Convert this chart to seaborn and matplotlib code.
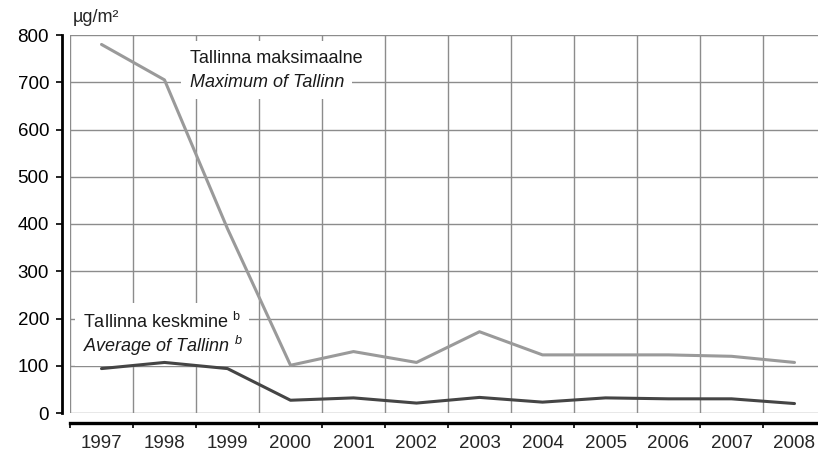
import numpy as np
import pandas as pd
import seaborn as sns
import matplotlib.pyplot as plt
from matplotlib.ticker import FixedLocator, NullFormatter

years = [1997, 1998, 1999, 2000, 2001, 2002, 2003, 2004, 2005, 2006, 2007, 2008]
maximum = [780, 705, 390, 101, 130, 107, 172, 123, 123, 123, 120, 107]
average = [94, 107, 94, 27, 32, 21, 33, 23, 32, 30, 30, 20]

df = pd.DataFrame({
    'year': years * 2,
    'value': maximum + average,
    'series': ['max'] * len(years) + ['avg'] * len(years),
})

sns.set_style('white')
plt.rcParams['font.family'] = ['Liberation Sans', 'DejaVu Sans']
plt.rcParams['mathtext.fontset'] = 'custom'
plt.rcParams['mathtext.rm'] = 'Liberation Sans'
plt.rcParams['mathtext.it'] = 'Liberation Sans:italic'

W, H = 818, 459
fig = plt.figure(figsize=(W / 100, H / 100), dpi=100)
# plot area in pixels: x 70..826, y 35..413
ax = fig.add_axes([70 / W, 1 - 413 / H, 756 / W, 378 / H])

sns.lineplot(data=df, x='year', y='value', hue='series',
             palette={'max': '#9a9a9a', 'avg': '#454545'},
             hue_order=['max', 'avg'], linewidth=2.2, legend=False, ax=ax,
             zorder=3)

ax.set_xlim(1996.5, 2008.5)
ax.set_ylim(0, 800)
ax.set_xlabel('')
ax.set_ylabel('')

ax.set_yticks(np.arange(0, 801, 100))
ax.xaxis.set_major_locator(FixedLocator(np.arange(1996.5, 2009, 1)))
ax.xaxis.set_major_formatter(NullFormatter())
ax.xaxis.set_minor_locator(FixedLocator(years))
ax.set_xticklabels([str(y) for y in years], minor=True)

ax.tick_params(axis='y', which='major', direction='out', length=4.3, width=1.2,
               labelsize=13.5, pad=5, colors='black', left=True)
ax.tick_params(axis='x', which='major', direction='out', length=3.6, width=1.2,
               bottom=True, colors='black')
ax.tick_params(axis='x', which='minor', length=0, labelsize=13.5, pad=9)

ax.grid(True, which='major', color='#8c8c8c', linewidth=1.0)
ax.set_axisbelow(True)

for s in ['top', 'right']:
    ax.spines[s].set_visible(False)
ax.spines['left'].set_position(('outward', 5.8))
ax.spines['left'].set_linewidth(2.0)
ax.spines['left'].set_color('black')
ax.spines['bottom'].set_position(('outward', 7.2))
ax.spines['bottom'].set_linewidth(2.4)
ax.spines['bottom'].set_color('black')

labels = [
    (1998.40, 751, 'Tallinna maksimaalne', 'normal'),
    (1998.40, 700, 'Maximum of Tallinn', 'italic'),
    (1996.71, 193, 'Tallinna keskmine $^{\\mathrm{b}}$', 'normal'),
    (1996.71, 142, 'Average of Tallinn $^{\\mathit{b}}$', 'italic'),
]
# white boxes first (behind lines), then the text on top of the boxes
for x, y, s, st in labels:
    ax.text(x, y, s, fontsize=13, style=st, va='center', color='white',
            bbox=dict(facecolor='white', edgecolor='none', pad=6), zorder=1)
for x, y, s, st in labels:
    ax.text(x, y, s, fontsize=13, style=st, va='center', color='#1a1a1a',
            zorder=1.5)

fig.text(73 / W, 1 - 18 / H, 'µg/m²', fontsize=13, va='center', ha='left')

fig.savefig('out.png', dpi=100)
